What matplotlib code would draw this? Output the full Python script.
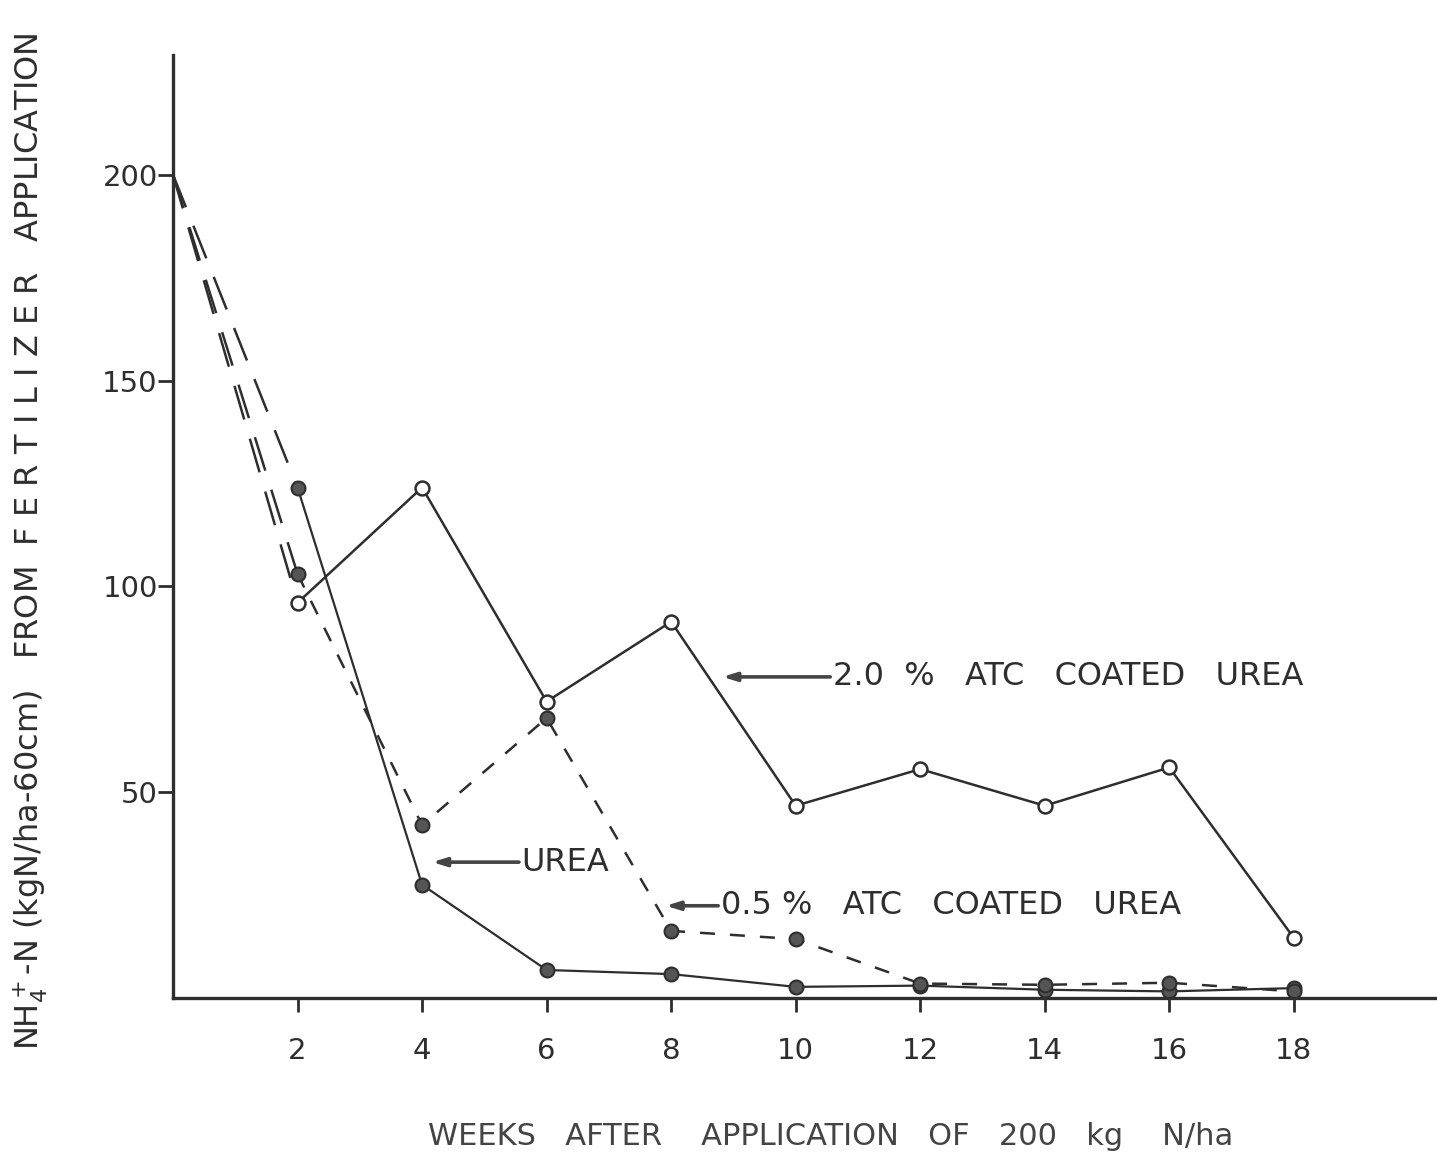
import matplotlib
matplotlib.use('Agg')
import matplotlib.pyplot as plt

weeks = [0, 2, 4, 6, 8, 10, 12, 14, 16, 18]
urea = [200, 124, 27.5, 6.8, 5.8, 2.7, 3.0, 2.0, 1.6, 2.4]
atc_05 = [200, 103, 42, 68, 16.3, 14.3, 3.5, 3.2, 3.7, 1.6]
atc_20 = [200, 96, 124, 72, 91.4, 46.7, 55.6, 46.7, 56, 14.6]

x_ticks = [2, 4, 6, 8, 10, 12, 14, 16, 18]
y_ticks = [50, 100, 150, 200]

ink = '#2e2e2e'
plt.rcParams['font.family'] = ['DejaVu Sans']

fig = plt.figure(figsize=(14.37, 11.52), dpi=100)
ax = fig.add_axes([0.1204, 0.1337, 0.8796, 0.8183])

long_dash = (14, 8)
short_dash = (6, 6)

# first segment of every series is drawn long-dashed in the original
for vals in (urea, atc_05, atc_20):
    ax.plot(weeks[:2], vals[:2], color=ink, lw=1.8, dashes=long_dash)

ax.plot(weeks[1:], urea[1:], color=ink, lw=1.6, marker='o', ms=10,
        mfc='#555555', mec=ink, mew=1.5)
ax.plot(weeks[1:], atc_05[1:], color=ink, lw=1.8, dashes=short_dash,
        marker='o', ms=10, mfc='#555555', mec=ink, mew=1.5)
ax.plot(weeks[1:], atc_20[1:], color=ink, lw=1.8, marker='o', ms=10,
        mfc='white', mec=ink, mew=1.8)

arrow = dict(arrowstyle='-|>,head_length=0.8,head_width=0.25', color='#444444', lw=2.6)
ax.annotate('', xy=(8.78, 78), xytext=(10.6, 78), arrowprops=arrow)
ax.text(10.6, 78, '2.0  %   ATC   COATED   UREA', fontsize=23, color=ink, va='center', ha='left')
ax.annotate('', xy=(4.12, 33), xytext=(5.6, 33), arrowprops=arrow)
ax.text(5.6, 33, 'UREA', fontsize=23, color=ink, va='center', ha='left')
ax.annotate('', xy=(7.87, 22.4), xytext=(8.8, 22.4), arrowprops=arrow)
ax.text(8.8, 22.4, '0.5 %   ATC   COATED   UREA', fontsize=23, color=ink, va='center', ha='left')

ax.set_xlim(0, 20.3)
ax.set_ylim(0, 229)
ax.set_xticks(x_ticks)
ax.set_yticks(y_ticks)
ax.tick_params(axis='x', length=10, width=2, pad=18, labelsize=21, colors=ink)
ax.tick_params(axis='y', length=11, width=2, pad=0, labelsize=21, colors=ink)

for side in ('top', 'right'):
    ax.spines[side].set_visible(False)
for side in ('left', 'bottom'):
    ax.spines[side].set_linewidth(2.4)
    ax.spines[side].set_color(ink)

ax.set_xlabel('WEEKS   AFTER    APPLICATION   OF   200   kg    N/ha', fontsize=22,
              color='#444444')
ax.xaxis.set_label_coords(0.52, -0.132)
ax.set_ylabel(r'NH$_4^+$-N (kgN/ha-60cm)   FROM  F E R T I L I Z E R   APPLICATION',
              fontsize=23, color=ink)
ax.yaxis.set_label_coords(-0.097, 0.484)

fig.savefig('out.png', dpi=100, facecolor='white')
